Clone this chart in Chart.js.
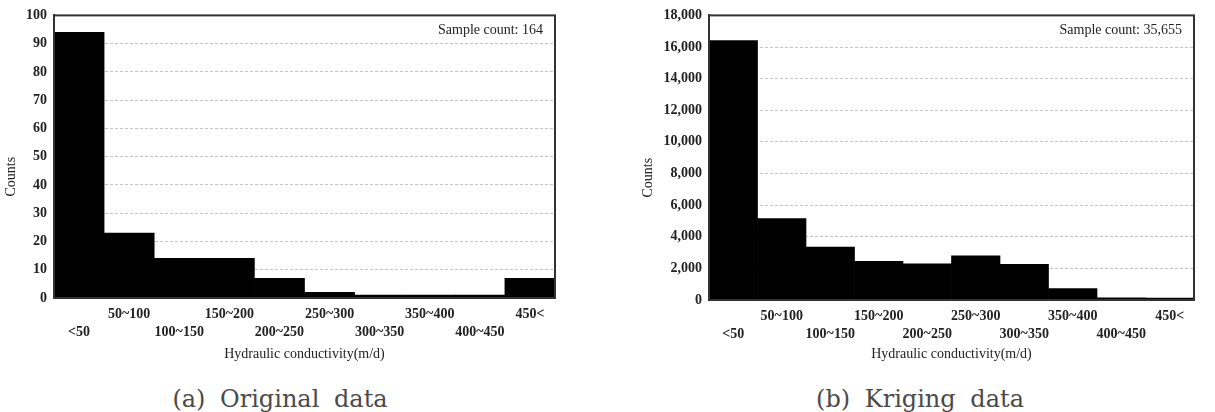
<!DOCTYPE html>
<html>
<head>
<meta charset="utf-8">
<script src="https://cdn.jsdelivr.net/npm/chart.js@4.4.1/dist/chart.umd.min.js"></script>
<style>
  html, body { margin: 0; padding: 0; background: #fff; width: 1215px; height: 412px; overflow: hidden; }
  #wrapA { position: absolute; left: 0; top: 0; width: 565px; height: 372px; }
  #wrapB { position: absolute; left: 615px; top: 0; width: 600px; height: 372px; }
  .cap { position: absolute; top: 387px; width: 400px; text-align: center; font-family: "DejaVu Serif", "Liberation Serif", serif; font-size: 24px; line-height: 24px; color: #4a4a4a; white-space: nowrap; word-spacing: 7px; }
  #capA { left: 80px; }
  #capB { left: 720px; }
</style>
</head>
<body>
<div id="wrapA"><canvas id="chartA" width="565" height="372"></canvas></div>
<div id="wrapB"><canvas id="chartB" width="600" height="372"></canvas></div>
<div class="cap" id="capA">(a) Original data</div>
<div class="cap" id="capB">(b) Kriging data</div>
<script>
// ---- data ----
const binLabels = ['<50', '50~100', '100~150', '150~200', '200~250', '250~300', '300~350', '350~400', '400~450', '450<'];
const originalCounts = [94, 23, 14, 14, 7, 2, 1, 1, 1, 7];
const krigingCounts = [16400, 5150, 3350, 2450, 2280, 2800, 2250, 720, 130, 125];
const originalSampleText = 'Sample count: 164';
const krigingSampleText = 'Sample count: 35,655';
const xAxisTitle = 'Hydraulic conductivity(m/d)';
const yAxisTitle = 'Counts';
const originalYMax = 100, originalYStep = 10;
const krigingYMax = 18000, krigingYStep = 2000;

const SERIF = "'Liberation Serif', 'Times New Roman', serif";
const TXT = '#222';

function decorPlugin(sampleText, titleX) {
  return {
    id: 'decor',
    afterDraw(chart) {
      const { ctx, chartArea: a } = chart;
      ctx.save();
      // frame
      ctx.strokeStyle = '#333';
      ctx.lineWidth = 2;
      ctx.strokeRect(a.left, a.top, a.right - a.left, a.bottom - a.top);
      // sample count
      ctx.fillStyle = TXT;
      ctx.font = '14px ' + SERIF;
      ctx.textAlign = 'right';
      ctx.textBaseline = 'middle';
      ctx.fillText(sampleText, a.right - 12, a.top + 15);
      // y axis title
      ctx.translate(chart.scales.y.left + titleX, (a.top + a.bottom) / 2 + 20);
      ctx.rotate(-Math.PI / 2);
      ctx.textAlign = 'center';
      ctx.fillText(yAxisTitle, 0, 0);
      ctx.restore();
    }
  };
}

function build(id, values, yMax, yStep, yWidth, pad, plotH, titleX, sampleText, fmt) {
  return new Chart(document.getElementById(id), {
    type: 'bar',
    data: {
      labels: binLabels,
      datasets: [{ data: values, backgroundColor: '#000', borderWidth: 0, categoryPercentage: 1, barPercentage: 1 }]
    },
    options: {
      responsive: false,
      animation: false,
      layout: { padding: pad },
      plugins: { legend: { display: false }, tooltip: { enabled: false } },
      scales: {
        x: {
          grid: { display: false, drawTicks: false },
          border: { display: true, color: '#333', width: 2 },
          ticks: {
            color: TXT, autoSkip: false, maxRotation: 0, minRotation: 0, padding: 8,
            font: { family: SERIF, size: 14, weight: 'bold', lineHeight: 1.25 },
            callback: function (v, i) {
              const t = this.getLabelForValue(v);
              return i % 2 === 0 ? ['', t] : [t, ''];
            }
          },
          title: { display: true, text: xAxisTitle, color: TXT, font: { family: SERIF, size: 14 }, padding: { top: 2, bottom: 9 } },
          afterFit: s => { s.height = 372 - pad.top - plotH; }
        },
        y: {
          min: 0, max: yMax,
          grid: { color: '#c4c4c4', lineWidth: 1, drawTicks: false },
          border: { display: true, color: '#333', width: 2, dash: [3, 2] },
          ticks: {
            stepSize: yStep, color: TXT, padding: 7,
            font: { family: SERIF, size: 14, weight: 'bold' },
            callback: v => fmt(v)
          },
          afterFit: s => { s.width = yWidth; }
        }
      }
    },
    plugins: [decorPlugin(sampleText, titleX)]
  });
}

build('chartA', originalCounts, originalYMax, originalYStep, 54,
  { top: 8, right: 10, bottom: 0, left: 0 }, 290, 11, originalSampleText, v => String(v));
build('chartB', krigingCounts, krigingYMax, krigingYStep, 94,
  { top: 6, right: 21, bottom: 0, left: 0 }, 294, 33, krigingSampleText, v => v.toLocaleString('en-US'));
</script>
</body>
</html>
